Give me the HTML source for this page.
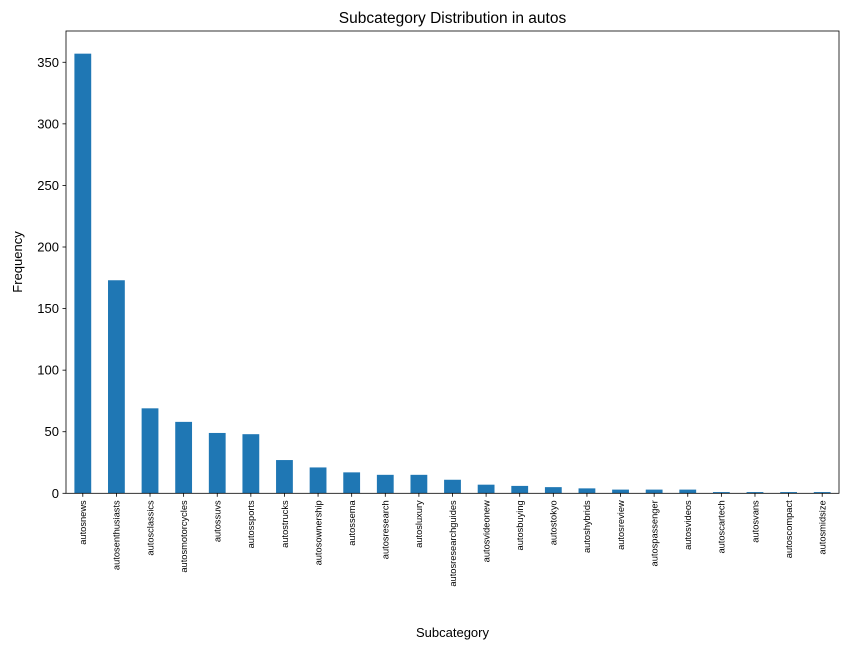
<!DOCTYPE html>
<html><head><meta charset="utf-8"><style>
body{margin:0;background:#fff;font-family:"Liberation Sans","DejaVu Sans",sans-serif;}
</style></head><body>
<svg id="chart" width="850" height="649" xmlns="http://www.w3.org/2000/svg"></svg>
<script>
const categories=["autosnews","autosenthusiasts","autosclassics","autosmotorcycles","autossuvs","autossports","autostrucks","autosownership","autossema","autosresearch","autosluxury","autosresearchguides","autosvideonew","autosbuying","autostokyo","autoshybrids","autosreview","autospassenger","autosvideos","autoscartech","autosvans","autoscompact","autosmidsize"];
const values=[357,173,69,58,49,48,27,21,17,15,15,11,7,6,5,4,3,3,3,1,1,1,1];
const yTicks=[0,50,100,150,200,250,300,350];
const svg=document.getElementById('chart');
const NS='http://www.w3.org/2000/svg';
const L=66,R=839,T=31,B=493.3;
const yMax=375.4;
function y(v){return B-(v/yMax)*(B-T);}
const step=(R-L)/categories.length;
function x(i){return L+step*(i+0.5);}
function mk(tag,attrs,text){const e=document.createElementNS(NS,tag);for(const k in attrs)e.setAttribute(k,attrs[k]);if(text!==undefined)e.textContent=text;svg.appendChild(e);return e;}
values.forEach((v,i)=>{
 const r=mk('rect',{x:x(i)-step/4,y:y(v),width:step/2,height:B-y(v),fill:'#1f77b4'});
 
 
 mk('line',{x1:x(i),x2:x(i),y1:B,y2:B+3.5,stroke:'#000','stroke-width':0.8});
 const t=mk('text',{x:0,y:0,transform:`translate(${x(i)+3.3},${B+7}) rotate(-90)`,'text-anchor':'end','font-size':9.3,fill:'#000'},categories[i]);
 
 
});
yTicks.forEach(v=>{
 mk('line',{x1:L-3.5,x2:L,y1:y(v),y2:y(v),stroke:'#000','stroke-width':0.8});
 const t=mk('text',{x:L-7,y:y(v)+4.5,'text-anchor':'end','font-size':13,fill:'#000'},v);
 
 
});
const f=mk('rect',{x:L,y:T,width:R-L,height:B-T,fill:'none',stroke:'#000','stroke-width':0.8});


const ti=mk('text',{x:(L+R)/2,y:23,'text-anchor':'middle','font-size':15.5,fill:'#000'},'Subcategory Distribution in autos');


const xt=mk('text',{x:(L+R)/2,y:637,'text-anchor':'middle','font-size':13,fill:'#000'},'Subcategory');


const yt=mk('text',{x:0,y:0,transform:'translate(22,262) rotate(-90)','text-anchor':'middle','font-size':13,fill:'#000'},'Frequency');


</script>
</body></html>
